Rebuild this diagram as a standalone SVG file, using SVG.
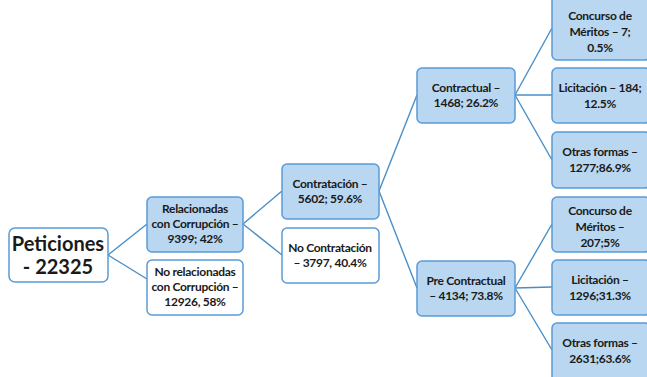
<svg xmlns="http://www.w3.org/2000/svg" width="647" height="377" viewBox="0 0 647 377">
<style>
.b{fill:#b9d7f0;stroke:#5b9bd5;stroke-width:1.5}
.w{fill:#ffffff;stroke:#5b9bd5;stroke-width:1.5}
text{font-family:Lato,"Liberation Sans",sans-serif;font-weight:bold;fill:#1a1a1a;text-anchor:middle;font-size:12px;letter-spacing:-0.3px}
.big{font-size:20px;letter-spacing:0}
#connectors line{stroke:#4a8ec6;stroke-width:1.4}
</style>
<rect width="647" height="377" fill="#ffffff"/>
<g id="connectors">
<line x1="108" y1="255" x2="147" y2="224"/>
<line x1="108" y1="255" x2="147" y2="279"/>
<line x1="243" y1="224" x2="282" y2="191"/>
<line x1="243" y1="224" x2="282" y2="255"/>
<line x1="379" y1="191" x2="417" y2="95"/>
<line x1="379" y1="191" x2="417" y2="288"/>
<line x1="515" y1="95" x2="552" y2="28"/>
<line x1="515" y1="95" x2="552" y2="95"/>
<line x1="515" y1="95" x2="552" y2="160"/>
<line x1="515" y1="288" x2="552" y2="224"/>
<line x1="515" y1="288" x2="552" y2="287"/>
<line x1="515" y1="288" x2="552" y2="350"/>
</g>
<g id="peticiones">
<rect class="w" x="9" y="228" width="99" height="54" rx="6"/>
<text class="big" x="58" y="251">Peticiones</text>
<text class="big" x="58" y="274">- 22325</text>
</g>
<g id="relacionadas">
<rect class="b" x="147" y="197" width="96" height="55" rx="5"/>
<text x="195" y="213">Relacionadas</text>
<text x="195" y="228">con Corrupción –</text>
<text x="195" y="243">9399; 42%</text>
</g>
<g id="no-relacionadas">
<rect class="w" x="147" y="260" width="96" height="55" rx="5"/>
<text x="195" y="276">No relacionadas</text>
<text x="195" y="291">con Corrupción –</text>
<text x="195" y="306">12926, 58%</text>
</g>
<g id="contratacion">
<rect class="b" x="282" y="164" width="97" height="55" rx="5"/>
<text x="330" y="188">Contratación –</text>
<text x="330" y="203">5602; 59.6%</text>
</g>
<g id="no-contratacion">
<rect class="w" x="282" y="228" width="97" height="55" rx="5"/>
<text x="330" y="252">No Contratación</text>
<text x="330" y="267">– 3797, 40.4%</text>
</g>
<g id="contractual">
<rect class="b" x="417" y="68" width="98" height="55" rx="5"/>
<text x="466" y="92">Contractual –</text>
<text x="466" y="107">1468; 26.2%</text>
</g>
<g id="pre-contractual">
<rect class="b" x="417" y="261" width="98" height="55" rx="5"/>
<text x="466" y="285">Pre Contractual</text>
<text x="466" y="300">– 4134; 73.8%</text>
</g>
<g id="concurso1">
<rect class="b" x="552" y="-4" width="98" height="64" rx="5"/>
<text x="600" y="20">Concurso de</text>
<text x="600" y="36">Méritos – 7;</text>
<text x="600" y="52">0.5%</text>
</g>
<g id="licitacion1">
<rect class="b" x="552" y="68" width="98" height="55" rx="5"/>
<text x="600" y="92">Licitación – 184;</text>
<text x="600" y="108">12.5%</text>
</g>
<g id="otras1">
<rect class="b" x="552" y="132" width="98" height="56" rx="5"/>
<text x="600" y="156">Otras formas –</text>
<text x="600" y="172">1277;86.9%</text>
</g>
<g id="concurso2">
<rect class="b" x="552" y="197" width="98" height="55" rx="5"/>
<text x="600" y="215">Concurso de</text>
<text x="600" y="231">Méritos –</text>
<text x="600" y="247">207;5%</text>
</g>
<g id="licitacion2">
<rect class="b" x="552" y="260" width="98" height="55" rx="5"/>
<text x="600" y="284">Licitación –</text>
<text x="600" y="300">1296;31.3%</text>
</g>
<g id="otras2">
<rect class="b" x="552" y="323" width="98" height="60" rx="5"/>
<text x="600" y="347">Otras formas –</text>
<text x="600" y="363">2631;63.6%</text>
</g>
</svg>
